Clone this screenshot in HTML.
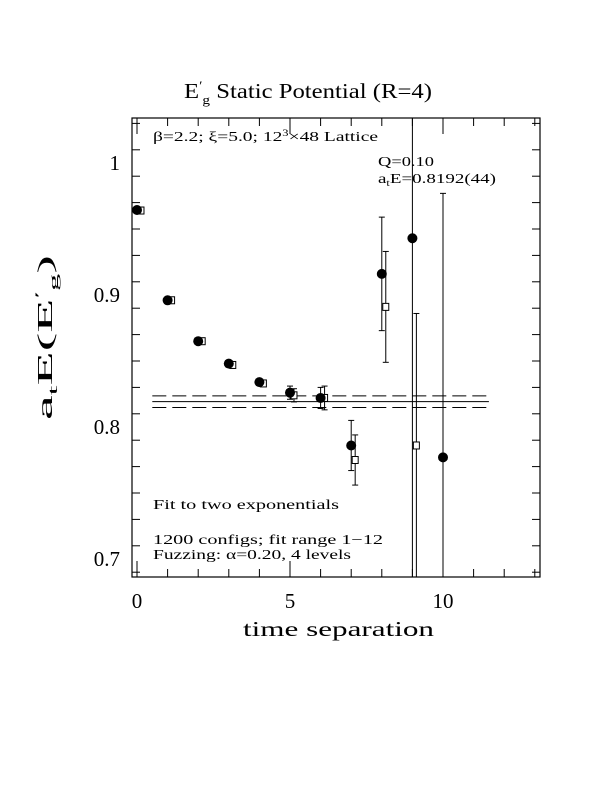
<!DOCTYPE html>
<html><head><meta charset="utf-8"><style>
body{margin:0;background:#fff;}
svg{display:block;font-family:"Liberation Serif",serif;}
</style></head><body>
<svg id="chart" width="612" height="792" viewBox="0 0 612 792" xmlns="http://www.w3.org/2000/svg">
<text x="184" y="98" font-size="21" textLength="248" lengthAdjust="spacingAndGlyphs">E<tspan dy="-8" font-size="13">′</tspan><tspan dy="14" font-size="13">g</tspan><tspan dy="-6">  Static Potential (R=4)</tspan></text>
<rect x="132" y="118" width="408" height="459" fill="none" stroke="#000" stroke-width="1.2"/>
<g id="ticks"></g>
<g id="fit"></g>
<g id="marks"></g>
<text x="153" y="141" font-size="14" textLength="225" lengthAdjust="spacingAndGlyphs">β=2.2; ξ=5.0; 12<tspan dy="-5" font-size="9">3</tspan><tspan dy="5">×48 Lattice</tspan></text>
<text x="378" y="166" font-size="14" textLength="56" lengthAdjust="spacingAndGlyphs">Q=0.10</text>
<text x="378" y="183" font-size="14" textLength="118" lengthAdjust="spacingAndGlyphs">a<tspan dy="3" font-size="9">t</tspan><tspan dy="-3">E=0.8192(44)</tspan></text>
<text x="153" y="509" font-size="14" textLength="186" lengthAdjust="spacingAndGlyphs">Fit to two exponentials</text>
<text x="153" y="544" font-size="14" textLength="230" lengthAdjust="spacingAndGlyphs">1200 configs; fit range 1−12</text>
<text x="153" y="559" font-size="14" textLength="198" lengthAdjust="spacingAndGlyphs">Fuzzing: α=0.20, 4 levels</text>
<text x="243" y="636" font-size="21" textLength="191" lengthAdjust="spacingAndGlyphs">time separation</text>
<text transform="translate(52,420) rotate(-90)" font-size="21" textLength="165" lengthAdjust="spacingAndGlyphs">a<tspan dy="5" font-size="13">t</tspan><tspan dy="-5">E(E</tspan><tspan dy="-8" font-size="13">′</tspan><tspan dy="14" font-size="13">g</tspan><tspan dy="-6">)</tspan></text>
</svg>
<script>
const times=[0,1,2,3,4,5,6,7,8,9,10];
const circVals=[0.9644,0.896,0.865,0.848,0.834,0.826,0.822,0.786,0.916,0.943,0.777];
const circErrs=[0.001,0.001,0.001,0.001,0.001,0.005,0.008,0.019,0.043,0.4,0.2];
const sqTimes=[0,1,2,3,4,5,6,7,8,9];
const sqVals=[0.964,0.896,0.865,0.847,0.833,0.824,0.822,0.775,0.891,0.786];
const sqErrs=[0.001,0.001,0.001,0.001,0.001,0.005,0.009,0.019,0.042,0.1];
const fitE=0.8192, fitErr=0.0044, fitRange=[0.5,11.5];
const xMajor=[0,5,10], yMajor=[0.7,0.8,0.9,1];
const yLabels=["0.7","0.8","0.9","1"];
const X=t=>137+t*30.6, Y=v=>163+(1-v)*1320;
const L=132,R=540,T=118,B=577;
const ns="http://www.w3.org/2000/svg";
function mk(tag,a,p){const e=document.createElementNS(ns,tag);for(const k in a)e.setAttribute(k,a[k]);p.appendChild(e);return e;}
const tk=document.getElementById('ticks'),svg=document.getElementById('chart');
for(let t=0;t<=13;t++){const x=X(t);if(x>R)break;const len=xMajor.includes(t)?16:8;
 let l=mk('line',{x1:x,y1:B,x2:x,y2:B-len,stroke:'#000'},tk);
 
 
 l=mk('line',{x1:x,y1:T,x2:x,y2:T+len,stroke:'#000'},tk);
 
 }
xMajor.forEach(t=>{const e=mk('text',{x:X(t),y:608,'font-size':21,'text-anchor':'middle'},svg);e.textContent=t;
 
 });
for(let i=0;i<=17;i++){const v=0.69+i*0.02;const y=Y(v);if(y<T||y>B)continue;const maj=Math.abs(((v*10)%1+1)%1)<0.01||Math.abs(((v*10)%1)-1)<0.01;const len=maj?16:8;
 let l=mk('line',{x1:L,y1:y,x2:L+len,y2:y,stroke:'#000'},tk);
 
 
 l=mk('line',{x1:R,y1:y,x2:R-len,y2:y,stroke:'#000'},tk);
 
 }
yMajor.forEach((v,i)=>{const e=mk('text',{x:120,y:Y(v)+7,'font-size':21,'text-anchor':'end'},svg);e.textContent=yLabels[i];
 
 });
const fit=document.getElementById('fit');
[[fitE,''],[fitE+fitErr,'14,6'],[fitE-fitErr,'14,6']].forEach(([v,d])=>{const l=mk('line',{x1:X(fitRange[0]),x2:X(fitRange[1]),y1:Y(v),y2:Y(v),stroke:'#000','stroke-dasharray':d},fit);
 
 });
const mg=document.getElementById('marks');
function err(x,v,e){const y1=Math.max(T,Y(v+e)),y2=Math.min(B,Y(v-e));
 const l=mk('line',{x1:x,x2:x,y1:y1,y2:y2,stroke:'#000'},mg);
 
 
 if(Y(v+e)>T)mk('line',{x1:x-3,x2:x+3,y1:y1,y2:y1,stroke:'#000'},mg);
 if(Y(v-e)<B)mk('line',{x1:x-3,x2:x+3,y1:y2,y2:y2,stroke:'#000'},mg);}
sqTimes.forEach((t,i)=>{const x=X(t+0.13);err(x,sqVals[i],sqErrs[i]);
 const s=mk('rect',{x:x-3,y:Y(sqVals[i])-3.5,width:6,height:7,fill:'#fff',stroke:'#000'},mg);
 
 });
times.forEach((t,i)=>{const x=X(t);err(x,circVals[i],circErrs[i]);
 const c=mk('circle',{cx:x,cy:Y(circVals[i]),r:5,fill:'#000'},mg);
 
 });
</script>
</body></html>
